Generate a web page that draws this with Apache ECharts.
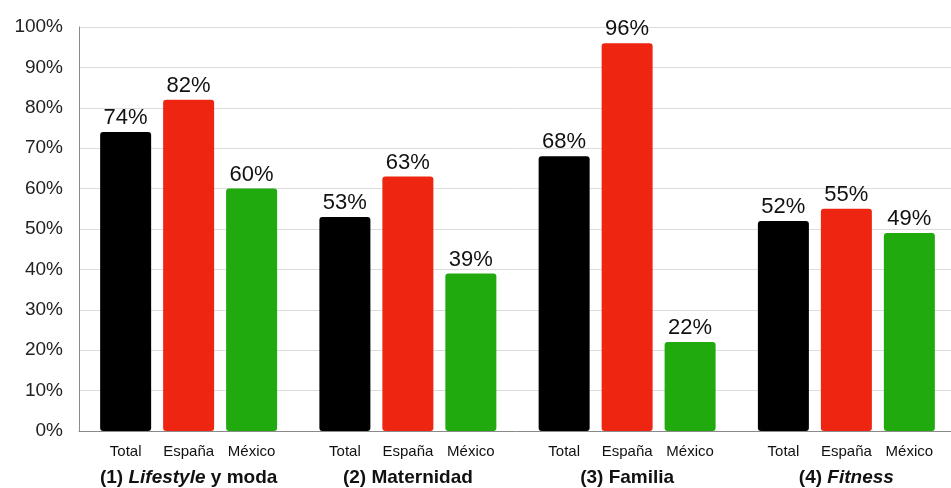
<!DOCTYPE html>
<html>
<head>
<meta charset="utf-8">
<script src="https://cdn.jsdelivr.net/npm/echarts@6/dist/echarts.min.js"></script>
<style>
html,body{margin:0;padding:0;background:#fff;}
#chart{width:951px;height:488px;}
</style>
</head>
<body>
<div id="chart"></div>
<script>
// Group categories (asterisks mark italic words)
var groups = ['(1) *Lifestyle* y moda', '(2) Maternidad', '(3) Familia', '(4) *Fitness*'];
var seriesNames = ['Total', 'España', 'México'];
var totalValues = [74, 53, 68, 52];
var espanaValues = [82, 63, 96, 55];
var mexicoValues = [60, 39, 22, 49];
var yTicks = [0, 10, 20, 30, 40, 50, 60, 70, 80, 90, 100];

var colors = ['#000000', '#EE2511', '#20AA0D'];
var FONT = 'Liberation Sans, Arial, Helvetica, sans-serif';

function groupRich(name) {
  var parts = name.split('*');
  var out = '';
  for (var i = 0; i < parts.length; i++) {
    if (!parts[i]) continue;
    out += (i % 2 === 1 ? '{gi|' : '{g|') + parts[i] + '}';
  }
  return out;
}

var chart = echarts.init(document.getElementById('chart'));
var valueSets = [totalValues, espanaValues, mexicoValues];
var series = seriesNames.map(function (n, i) {
  return {
    name: n,
    type: 'bar',
    data: valueSets[i],
    barWidth: 51,
    barGap: '23.5%',
    itemStyle: { color: colors[i], borderRadius: [3, 3, 3, 3] },
    label: {
      show: true,
      position: 'top',
      distance: 3,
      formatter: '{c}%',
      fontSize: 22,
      color: '#111',
      fontFamily: FONT
    }
  };
});

chart.setOption({
  animation: false,
  backgroundColor: '#fff',
  textStyle: { fontFamily: FONT },
  grid: { left: 79, width: 877, top: 27, bottom: 57, containLabel: false, outerBoundsMode: 'none' },
  xAxis: {
    type: 'category',
    data: groups,
    axisTick: { show: false },
    axisLine: { show: true, lineStyle: { color: '#8a8a8a', width: 1 } },
    axisLabel: {
      margin: 9,
      interval: 0,
      formatter: function (v) {
        return seriesNames.map(function (s) { return '{s|' + s + '}'; }).join('') + '\n' + groupRich(v);
      },
      rich: {
        s: { width: 63, align: 'center', fontSize: 15, color: '#111', lineHeight: 24, fontFamily: FONT },
        g: { align: 'center', fontSize: 19, fontWeight: 'bold', color: '#111', lineHeight: 28, fontFamily: FONT },
        gi: { align: 'center', fontSize: 19, fontWeight: 'bold', fontStyle: 'italic', color: '#111', lineHeight: 28, fontFamily: FONT }
      }
    }
  },
  yAxis: {
    type: 'value',
    min: yTicks[0],
    max: yTicks[yTicks.length - 1],
    interval: 10,
    axisLine: { show: true, lineStyle: { color: '#8a8a8a', width: 1 } },
    axisTick: { show: false },
    axisLabel: { formatter: '{value}%', fontSize: 19, color: '#222', margin: 16, fontFamily: FONT },
    splitLine: { show: true, lineStyle: { color: '#dcdcdc', width: 1 } }
  },
  series: series
});
</script>
</body>
</html>
